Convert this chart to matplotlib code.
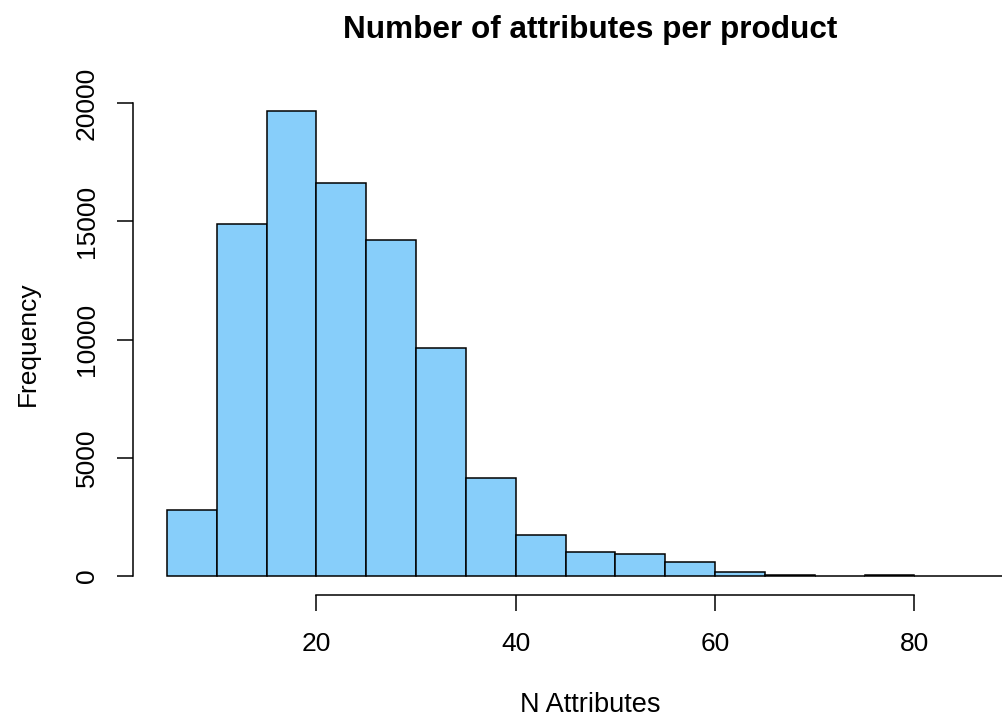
import matplotlib
matplotlib.use("Agg")
import matplotlib.pyplot as plt
import numpy as np

plt.rcParams['font.family'] = ['Liberation Sans', 'DejaVu Sans']

# histogram bins (width 5) and counts
bin_edges = [5, 10, 15, 20, 25, 30, 35, 40, 45, 50, 55, 60, 65, 70, 75, 80, 85, 90]
counts = [2790, 14880, 19660, 16620, 14210, 9640, 4140, 1730, 1010, 930, 590, 170, 30, 20, 40, 10, 5]
y_ticks = [0, 5000, 10000, 15000, 20000]
x_ticks = [20, 40, 60, 80]

fig = plt.figure(figsize=(10.03, 7.18), dpi=100)
# plot region runs a bit past the right edge, like the cropped R output
ax = fig.add_axes([133 / 1003, 1 - 595 / 718, (1048 - 133) / 1003, (595 - 92.5) / 718])

lefts = np.array(bin_edges[:-1])
ax.bar(lefts, counts, width=np.diff(bin_edges), align='edge',
       color='#87CEFA', edgecolor='black', linewidth=1.1)

ax.set_xlim(1.6, 93.4)
ax.set_ylim(-803, 20446)

for s in ['top', 'right']:
    ax.spines[s].set_visible(False)
ax.spines['left'].set_bounds(0, 20000)
ax.spines['bottom'].set_bounds(20, 80)
ax.spines['left'].set_linewidth(1.1)
ax.spines['bottom'].set_linewidth(1.1)

ax.set_yticks(y_ticks)
ax.set_yticklabels([str(v) for v in y_ticks], rotation=90, va='center')
ax.set_xticks(x_ticks)
ax.tick_params(axis='both', length=11.5, width=1.1, labelsize=19)
ax.tick_params(axis='y', pad=13)
ax.tick_params(axis='x', pad=15)

ax.set_title('Number of attributes per product', fontsize=22.7, fontweight='bold', pad=39)
ax.set_xlabel('N Attributes', fontsize=19.5, labelpad=26)
ax.set_ylabel('Frequency', fontsize=19, labelpad=25)

fig.savefig('out.png', dpi=100)
